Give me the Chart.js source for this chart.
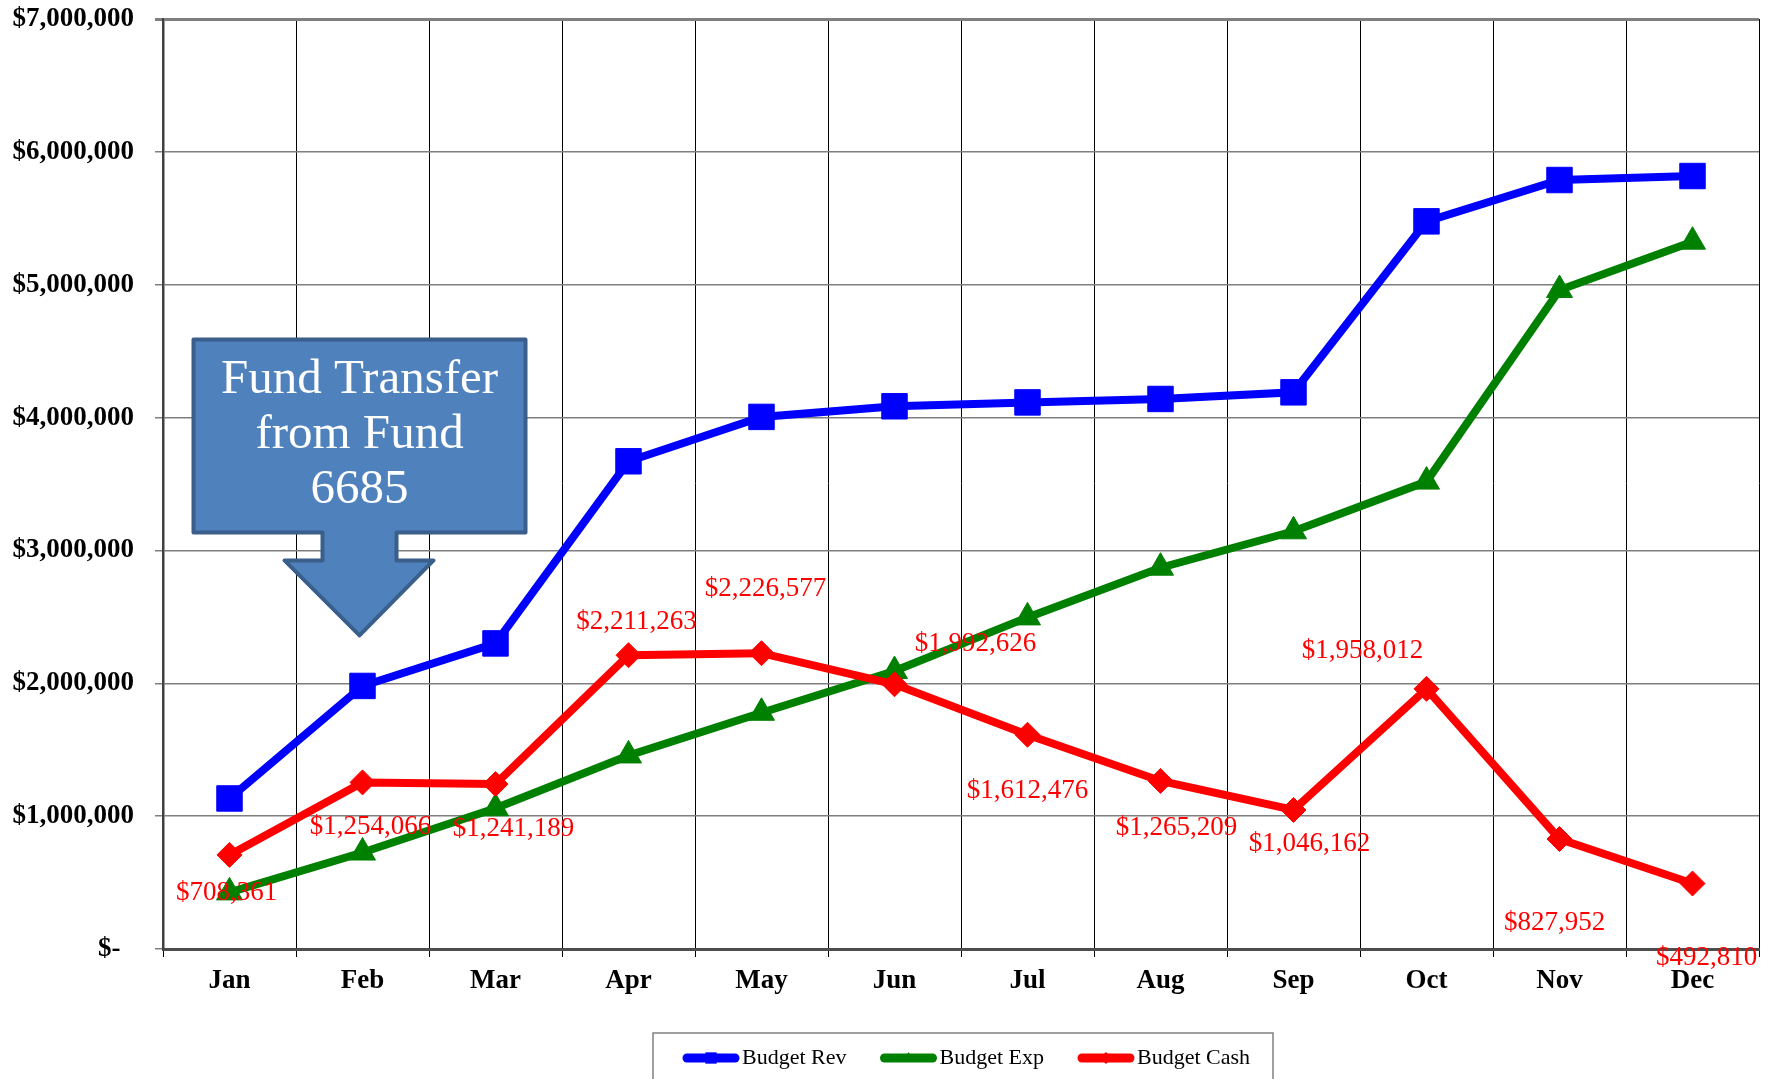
<!DOCTYPE html>
<html>
<head>
<meta charset="utf-8">
<title>Budget Rev / Exp / Cash</title>
<script src="https://cdn.jsdelivr.net/npm/chart.js@4.4.0/dist/chart.umd.min.js"></script>
<style>
  html, body { margin: 0; padding: 0; background: #fff; }
  #wrap { width: 1774px; height: 1079px; }
</style>
</head>
<body>
<div id="wrap"><canvas id="budgetChart" width="1774" height="1079"></canvas></div>
<script>
// chart data
const months = ['Jan', 'Feb', 'Mar', 'Apr', 'May', 'Jun', 'Jul', 'Aug', 'Sep', 'Oct', 'Nov', 'Dec'];
const budgetRev = [1133000, 1980000, 2300000, 3671000, 4005000, 4085000, 4114000, 4140000, 4190000, 5477000, 5788000, 5818000];
const budgetExp = [426000, 726000, 1059000, 1457000, 1778000, 2092000, 2496000, 2870000, 3144000, 3518000, 4960000, 5324000];
const budgetCash = [708361, 1254066, 1241189, 2211263, 2226577, 1992626, 1612476, 1265209, 1046162, 1958012, 827952, 492810];
const yTicks = [0, 1000000, 2000000, 3000000, 4000000, 5000000, 6000000, 7000000];
const calloutLines = ['Fund Transfer', 'from Fund', '6685'];

// where each cash label sits relative to its point (px)
const cashLabelOffsets = [[-3, 38], [8, 45], [18, 45], [8, -33], [4, -64], [81, -40],
                          [0, 56], [16, 47], [16, 34], [-64, -38], [-5, 84], [14, 74]];

const SERIF = "'Liberation Serif', 'Times New Roman', serif";

function money(v) {
    return '$' + v.toLocaleString('en-US');
}

// red value labels on the cash line
const cashLabels = {
    id: 'cashLabels',
    afterDatasetsDraw(chart) {
        const ctx = chart.ctx;
        const meta = chart.getDatasetMeta(2);
        ctx.save();
        ctx.font = '27px ' + SERIF;
        ctx.fillStyle = '#ff0000';
        ctx.textAlign = 'center';
        ctx.textBaseline = 'middle';
        meta.data.forEach((pt, i) => {
            const off = cashLabelOffsets[i];
            ctx.fillText(money(budgetCash[i]), pt.x + off[0], pt.y + off[1]);
        });
        ctx.restore();
    }
};

// blue down-arrow callout
const callout = {
    id: 'callout',
    afterDraw(chart) {
        const ctx = chart.ctx;
        const tx = chart.scales.x.getPixelForValue(1) - 3;
        const ty = chart.scales.y.getPixelForValue(2360000);
        ctx.save();
        ctx.beginPath();
        ctx.moveTo(tx - 166, ty - 296);
        ctx.lineTo(tx + 166, ty - 296);
        ctx.lineTo(tx + 166, ty - 103);
        ctx.lineTo(tx + 37, ty - 103);
        ctx.lineTo(tx + 37, ty - 75);
        ctx.lineTo(tx + 74, ty - 75);
        ctx.lineTo(tx, ty);
        ctx.lineTo(tx - 75, ty - 75);
        ctx.lineTo(tx - 37, ty - 75);
        ctx.lineTo(tx - 37, ty - 103);
        ctx.lineTo(tx - 166, ty - 103);
        ctx.closePath();
        ctx.fillStyle = '#4f81bd';
        ctx.fill();
        ctx.lineJoin = 'round';
        ctx.lineWidth = 4;
        ctx.strokeStyle = '#3a5f8b';
        ctx.stroke();

        ctx.fillStyle = '#ffffff';
        ctx.font = '49px ' + SERIF;
        ctx.textAlign = 'center';
        ctx.textBaseline = 'middle';
        calloutLines.forEach((line, i) => {
            ctx.fillText(line, tx, ty - 255 + i * 55);
        });
        ctx.restore();
    }
};

// boxed legend at the bottom with line + marker swatches
const boxLegend = {
    id: 'boxLegend',
    afterDraw(chart) {
        const ctx = chart.ctx;
        const y = 1058;
        ctx.save();
        ctx.strokeStyle = '#808080';
        ctx.lineWidth = 1.5;
        ctx.strokeRect(653, 1033, 620, 60);

        ctx.font = '22px ' + SERIF;
        ctx.textBaseline = 'middle';
        let x = 683;
        chart.data.datasets.forEach(ds => {
            ctx.strokeStyle = ds.borderColor;
            ctx.lineWidth = 9;
            ctx.lineCap = 'round';
            ctx.beginPath();
            ctx.moveTo(x + 4, y);
            ctx.lineTo(x + 52, y);
            ctx.stroke();
            ctx.fillStyle = ds.borderColor;
            Chart.helpers.drawPoint(ctx, {
                pointStyle: ds.pointStyle,
                radius: ds.pointStyle === 'rect' ? 8 : 6,
                rotation: 0,
                borderWidth: 0
            }, x + 28, y);
            ctx.fillStyle = '#000';
            ctx.fillText(ds.label, x + 59, y);
            x += 59 + ctx.measureText(ds.label).width + 34;
        });
        ctx.restore();
    }
};

const ctx = document.getElementById('budgetChart').getContext('2d');
new Chart(ctx, {
    type: 'line',
    data: {
        labels: months,
        datasets: [
            {
                label: 'Budget Rev',
                data: budgetRev,
                borderColor: '#0000ff',
                backgroundColor: '#0000ff',
                borderWidth: 8,
                pointStyle: 'rect',
                pointRadius: 18,
                pointBorderWidth: 1,
                order: 3
            },
            {
                label: 'Budget Exp',
                data: budgetExp,
                borderColor: '#008000',
                backgroundColor: '#008000',
                borderWidth: 8,
                pointStyle: 'triangle',
                pointRadius: 15,
                pointBorderWidth: 1,
                order: 2
            },
            {
                label: 'Budget Cash',
                data: budgetCash,
                borderColor: '#ff0000',
                backgroundColor: '#ff0000',
                borderWidth: 8,
                pointStyle: 'rectRot',
                pointRadius: 12.5,
                pointBorderWidth: 1,
                order: 1
            }
        ]
    },
    options: {
        responsive: false,
        animation: false,
        events: [],
        layout: {
            autoPadding: false,
            padding: { top: 19, right: 15, bottom: 70, left: 0 }
        },
        plugins: {
            legend: { display: false },
            tooltip: { enabled: false }
        },
        scales: {
            x: {
                offset: true,
                grid: {
                    offset: true,
                    color: c => c.index === months.length ? '#a6a6a6' : '#000000',
                    lineWidth: c => c.index === months.length ? 2.5 : 1,
                    tickLength: 8
                },
                border: { color: '#4d4d4d', width: 3 },
                ticks: {
                    color: '#000',
                    padding: 8,
                    font: { family: SERIF, size: 27, weight: 'bold' }
                },
                afterFit: axis => { axis.height = 60; }
            },
            y: {
                min: 0,
                max: 7000000,
                afterBuildTicks: axis => { axis.ticks = yTicks.map(v => ({ value: v })); },
                grid: {
                    color: '#7f7f7f',
                    lineWidth: c => c.index === yTicks.length - 1 ? 3 : 1.5,
                    tickLength: 8
                },
                border: { color: '#404040', width: 2.5 },
                ticks: {
                    color: '#000',
                    padding: 21,
                    font: { family: SERIF, size: 27, weight: 'bold' },
                    callback: v => v === 0 ? '$-  ' : money(v)
                },
                afterFit: axis => {
                    axis.width = 163;
                    axis.paddingTop = 0;
                    axis.paddingBottom = 0;
                }
            }
        }
    },
    plugins: [cashLabels, callout, boxLegend]
});
</script>
</body>
</html>
